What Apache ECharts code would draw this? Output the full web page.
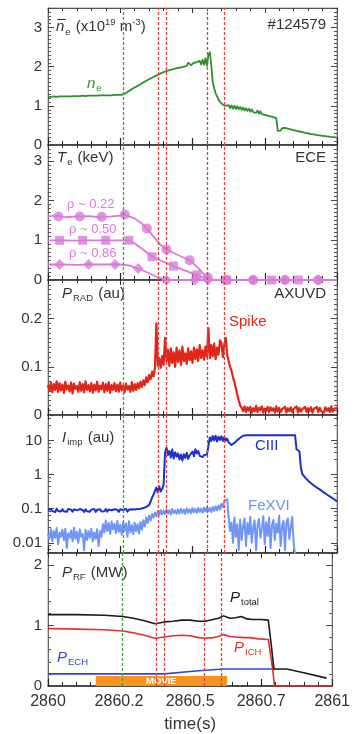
<!DOCTYPE html>
<html><head><meta charset="utf-8">
<script src="https://cdn.jsdelivr.net/npm/echarts@6/dist/echarts.min.js"></script>
<style>html,body{margin:0;padding:0;background:#fff}#c{width:353px;height:734px}</style>
</head><body><div id="c"></div>
<script>
// ---------- DATA ----------
const T0 = 2860;                 // time origin (s)
const DT = 0.005;
const xTickLabels = ['2860', '2860.2', '2860.5', '2860.7', '2861'];
const yTicksNe = [0, 1, 2, 3];
const yTicksTe = [0, 1, 2, 3];
const yTicksPrad = [0, 0.1, 0.2];
const yTicksImp = [0.01, 0.1, 1, 10];
const yTicksPrf = [0, 1, 2];

const eventGreen = [0.263];
const eventRed = [0.376, 0.407, 0.553, 0.613];
const movieSpan = [0.168, 0.63];

// line-averaged density (1e19 m^-3), sampled every DT from t=0
const neVals = [
1.23,1.23,1.23,1.23,1.24,1.23,1.23,1.24,1.24,1.23,
1.24,1.24,1.24,1.24,1.24,1.25,1.24,1.24,1.25,1.25,
1.25,1.25,1.25,1.25,1.26,1.25,1.25,1.26,1.26,1.26,
1.26,1.26,1.26,1.27,1.26,1.26,1.27,1.27,1.27,1.27,
1.27,1.27,1.27,1.28,1.27,1.28,1.28,1.28,1.28,1.28,
1.28,1.28,1.29,1.32,1.33,1.36,1.38,1.41,1.43,1.45,
1.47,1.49,1.51,1.53,1.55,1.57,1.60,1.62,1.64,1.66,
1.68,1.70,1.72,1.74,1.76,1.78,1.79,1.81,1.83,1.84,
1.86,1.87,1.89,1.90,1.91,1.92,1.93,1.94,1.95,1.96,
1.97,1.97,1.98,1.99,2.00,2.01,2.02,2.10,2.06,2.04,
2.05,2.10,2.07,2.12,2.08,2.15,2.06,2.18,2.05,2.22,
2.02,2.30,2.37,2.05,1.60,1.45,1.32,1.24,1.16,1.10,
1.06,1.03,1.00,1.00,0.96,1.02,0.94,1.01,0.93,1.00,
0.92,0.99,0.91,0.97,0.90,0.96,0.88,0.94,0.87,0.93,
0.85,0.91,0.84,0.89,0.82,0.88,0.80,0.86,0.79,0.84,
0.77,0.82,0.75,0.80,0.73,0.78,0.71,0.74,0.68,0.36,
0.33,0.37,0.43,0.45,0.44,0.43,0.42,0.41,0.40,0.39,
0.38,0.37,0.36,0.355,0.345,0.34,0.33,0.32,0.31,0.305,
0.30,0.29,0.28,0.275,0.27,0.26,0.255,0.25,0.245,0.24,
0.235,0.23,0.225,0.22,0.215,0.21,0.205,0.20,0.20,0.195,
0.19];

// ECE electron temperature (keV): traces and marker points [t, Te]
const te022Line = [[0,1.60],[0.03,1.62],[0.06,1.58],[0.10,1.60],[0.14,1.61],[0.18,1.58],[0.22,1.60],[0.25,1.62],[0.266,1.65],[0.28,1.60],[0.30,1.55],[0.32,1.45],[0.342,1.30],[0.37,1.05],[0.39,0.88],[0.41,0.77],[0.44,0.66],[0.47,0.56],[0.49,0.50],[0.52,0.30],[0.545,0.10],[0.56,0.01],[0.57,0],[1.0,0]];
const te050Line = [[0,1.00],[0.05,1.00],[0.10,0.99],[0.15,1.00],[0.20,1.00],[0.25,1.00],[0.28,1.00],[0.30,0.92],[0.33,0.76],[0.36,0.585],[0.40,0.46],[0.434,0.35],[0.47,0.25],[0.515,0.13],[0.54,0.05],[0.56,0],[1.0,0]];
const te086Line = [[0,0.39],[0.05,0.39],[0.10,0.38],[0.15,0.39],[0.20,0.39],[0.25,0.39],[0.28,0.37],[0.312,0.29],[0.35,0.17],[0.38,0.07],[0.41,0],[1.0,0]];
const te022Marks = [[0.036,1.60],[0.11,1.60],[0.186,1.59],[0.266,1.65],[0.342,1.30],[0.41,0.77],[0.49,0.50],[0.553,0.06],[0.618,0],[0.71,0],[0.82,0],[0.935,0]];
const te050Marks = [[0.04,1.00],[0.12,1.00],[0.20,1.00],[0.28,1.00],[0.36,0.585],[0.434,0.35],[0.515,0.13],[0.618,0],[0.774,0],[0.866,0]];
const te086Marks = [[0.04,0.39],[0.14,0.39],[0.232,0.39],[0.312,0.29],[0.41,0],[0.508,0],[0.553,0],[0.71,0],[0.82,0],[0.935,0]];

// radiated power AXUVD (au), sampled every DT
const pradVals = [
.062,.050,.068,.047,.064,.052,.070,.048,.066,.051,
.063,.046,.069,.053,.061,.049,.067,.045,.065,.054,
.060,.048,.068,.050,.064,.047,.070,.052,.062,.049,
.066,.046,.063,.051,.069,.048,.061,.053,.067,.047,
.064,.050,.068,.046,.062,.052,.066,.049,.063,.048,
.067,.051,.061,.047,.065,.053,.060,.048,.068,.050,
.064,.052,.066,.055,.069,.058,.072,.062,.078,.068,
.083,.074,.090,.080,.097,.190,.102,.118,.098,.122,
.104,.160,.112,.135,.102,.138,.108,.130,.100,.140,
.110,.134,.104,.142,.112,.128,.106,.138,.114,.132,
.108,.140,.116,.136,.112,.145,.118,.134,.115,.142,
.120,.180,.118,.145,.122,.148,.116,.140,.125,.155,
.150,.120,.146,.160,.125,.112,.100,.092,.078,.068,
.055,.042,.030,.020,.015,.008,.018,.006,.016,.009,
.017,.005,.014,.008,.019,.006,.015,.010,.018,.005,
.013,.008,.017,.006,.016,.009,.014,.005,.018,.007,
.015,.006,.012,.009,.017,.005,.014,.008,.016,.006,
.013,.009,.018,.005,.015,.007,.012,.010,.017,.006,
.014,.008,.016,.005,.013,.009,.017,.006,.015,.008,
.012,.005,.016,.009,.014,.006,.018,.007,.013,.010,
.015];

// impurity line intensities (au), sampled every DT
const ciiiVals = [
.092,.082,.098,.085,.095,.080,.100,.086,.093,.083,
.097,.084,.091,.081,.099,.087,.094,.082,.096,.085,
.090,.083,.098,.086,.092,.080,.097,.084,.095,.082,
.094,.085,.099,.081,.093,.086,.096,.083,.091,.084,
.098,.082,.095,.087,.090,.083,.097,.085,.093,.081,
.096,.086,.092,.084,.099,.082,.094,.087,.097,.085,
.095,.086,.098,.088,.100,.092,.105,.098,.112,.105,
.130,.160,.210,.260,.330,.420,.300,.450,.320,.380,
.500,4.5,6.2,3.8,5.0,3.2,5.5,3.0,4.6,3.4,
4.2,2.8,3.9,2.6,4.0,3.1,4.4,2.9,3.7,3.3,
4.8,3.5,5.6,4.2,5.0,3.6,4.1,3.3,3.8,3.5,
3.9,4.2,12.5,9.8,13.8,10.2,14.0,9.5,13.2,10.5,
13.5,9.8,12.8,10.0,11.5,9.0,8.0,7.5,7.8,8.6,
9.6,10.4,11.2,12.2,13.2,14.0,14.4,14.4,14.4,14.4,
14.4,14.4,14.4,14.4,14.4,14.4,14.4,14.4,14.4,14.4,
14.4,14.4,14.4,14.4,14.4,14.4,14.4,14.4,14.4,14.4,
14.4,14.4,14.4,14.4,14.4,14.4,14.4,14.4,14.4,14.4,
14.4,14.4,5.6,5.3,4.9,1.6,1.05,0.92,0.82,0.74,
0.67,0.62,0.56,0.52,0.48,0.45,0.42,0.39,0.37,0.34,
0.32,0.30,0.28,0.26,0.245,0.23,0.215,0.20,0.19,0.175,
0.165];
const fexviVals = [
.018,.013,.025,.011,.022,.014,.027,.009,.020,.015,
.024,.012,.026,.007,.019,.014,.023,.011,.028,.013,
.021,.010,.025,.015,.018,.006,.024,.012,.022,.014,
.026,.011,.020,.013,.025,.008,.022,.015,.035,.020,
.045,.022,.038,.018,.042,.025,.036,.019,.044,.021,
.034,.017,.040,.023,.037,.015,.043,.020,.033,.018,
.039,.022,.035,.019,.041,.024,.046,.030,.055,.038,
.062,.045,.070,.055,.078,.060,.085,.065,.090,.068,
.088,.070,.095,.072,.092,.068,.098,.074,.090,.071,
.096,.073,.100,.075,.094,.070,.102,.076,.097,.074,
.104,.078,.099,.075,.106,.080,.101,.077,.108,.082,
.110,.084,.105,.080,.112,.086,.118,.090,.125,.095,
.140,.110,.170,.150,.190,.055,.022,.040,.010,.055,
.015,.035,.006,.048,.012,.030,.052,.008,.038,.018,
.058,.010,.028,.045,.006,.034,.050,.014,.026,.060,
.009,.040,.016,.055,.007,.032,.047,.012,.036,.020,
.062,.008,.030,.044,.006,.038,.052,.013,.028,.058,
.010,.004];

// RF heating power (MW): [t, P]
const pTotal = [[0,1.18],[0.10,1.18],[0.20,1.17],[0.263,1.15],[0.30,1.12],[0.34,1.08],[0.376,1.03],[0.41,1.06],[0.44,1.07],[0.47,1.09],[0.50,1.09],[0.53,1.07],[0.553,1.07],[0.58,1.10],[0.60,1.12],[0.618,1.16],[0.64,1.12],[0.66,1.13],[0.68,1.15],[0.70,1.11],[0.72,1.10],[0.75,1.10],[0.775,1.09],[0.785,0.70],[0.795,0.28],[0.84,0.28],[0.90,0.22],[0.98,0.13]];
const pICH = [[0,0.95],[0.10,0.94],[0.20,0.93],[0.263,0.91],[0.30,0.88],[0.34,0.84],[0.376,0.79],[0.41,0.81],[0.44,0.83],[0.47,0.84],[0.50,0.83],[0.53,0.80],[0.553,0.79],[0.58,0.80],[0.60,0.82],[0.618,0.85],[0.64,0.82],[0.66,0.81],[0.69,0.80],[0.71,0.80],[0.74,0.78],[0.775,0.77],[0.79,0.30],[0.797,0],[1.0,0]];
const pECH = [[0,0.20],[0.20,0.20],[0.41,0.20],[0.50,0.24],[0.553,0.26],[0.618,0.28],[0.797,0.28]];

// ---------- BUILD ----------
const FONT = 'Liberation Sans, Arial, sans-serif';
const C = {
  ne: '#2e8f2e', te: '#d77bd8', prad: '#e1251b', ciii: '#1b2fcc', fexvi: '#6f95f5',
  ptot: '#1a1a1a', pich: '#e2302a', pech: '#3146d8', movie: '#f7931e',
  green: '#3ea33e', red: '#ea3b3b'
};
const sampled = vals => vals.map((v, i) => [T0 + Math.round(i * DT * 1000) / 1000, v]);
const abs = pairs => pairs.map(p => [T0 + p[0], p[1]]);

const grids = [
  { top: 8, height: 137 },
  { top: 145, height: 135 },
  { top: 280, height: 135 },
  { top: 415, height: 138 },
  { top: 553, height: 134 }
].map(g => ({ left: 48, right: 16, top: g.top, height: g.height, show: true, borderColor: '#9a9a9a', borderWidth: 1 }));

const xAxis = [];
grids.forEach((g, i) => {
  const last = i === grids.length - 1;
  xAxis.push({
    gridIndex: i, type: 'value', min: T0, max: T0 + 1, interval: 0.25, position: 'bottom',
    axisLine: { show: true, onZero: false, lineStyle: { color: '#222', width: 1.5 } },
    axisTick: { show: true, inside: true, length: 7, lineStyle: { color: '#222', width: 1.2 } },
    minorTick: { show: true, splitNumber: 5, length: 4, lineStyle: { color: '#222', width: 1 } },
    splitLine: { show: false },
    axisLabel: {
      show: last, margin: 8, color: '#333', fontSize: 16, fontFamily: FONT,
      formatter: (v, idx) => xTickLabels[idx] !== undefined ? xTickLabels[idx] : ''
    },
    name: last ? 'time(s)' : '', nameLocation: 'middle', nameGap: 30,
    nameTextStyle: { color: '#333', fontSize: 17, fontFamily: FONT }
  });
  xAxis.push({
    gridIndex: i, type: 'value', min: T0, max: T0 + 1, interval: 0.25, position: 'top',
    axisLine: { show: true, onZero: false, lineStyle: { color: '#555', width: 1 } },
    axisTick: { show: true, inside: true, length: 5, lineStyle: { color: '#333' } },
    minorTick: { show: true, splitNumber: 5, length: 3, lineStyle: { color: '#333' } },
    splitLine: { show: false }, axisLabel: { show: false }
  });
});

const yCfg = [
  { min: 0, max: 3.5, interval: 1, ticks: yTicksNe, minor: 10 },
  { min: 0, max: 3.4, interval: 1, ticks: yTicksTe, minor: 10 },
  { min: 0, max: 0.28, interval: 0.1, ticks: yTicksPrad, minor: 10 },
  { log: true, min: 0.005, max: 57, ticks: yTicksImp, minor: 5 },
  { min: 0, max: 2.2, interval: 1, ticks: yTicksPrf, minor: 5 }
];
const yAxis = [];
yCfg.forEach((c, i) => {
  const base = {
    gridIndex: i, min: c.min, max: c.max,
    type: c.log ? 'log' : 'value',
    splitLine: { show: false },
    axisLine: { show: true, onZero: false, lineStyle: { color: '#666', width: 1 } },
    axisTick: { show: true, inside: true, length: 6, lineStyle: { color: '#444' } },
    minorTick: { show: true, splitNumber: c.minor, length: 3, lineStyle: { color: '#555' } }
  };
  if (c.log) base.logBase = 10; else base.interval = c.interval;
  const fmt = v => {
    const hit = c.ticks.find(t => Math.abs(t - v) < Math.abs(t) * 1e-6 + 1e-9);
    return hit !== undefined ? String(hit) : '';
  };
  yAxis.push(Object.assign({}, base, {
    position: 'left',
    axisLabel: { show: true, margin: 6, color: '#333', fontSize: 15, fontFamily: FONT, formatter: fmt, showMinLabel: true, showMaxLabel: true }
  }));
  yAxis.push(Object.assign({}, base, { position: 'right', axisLabel: { show: false } }));
});

const eventLines = () => ({
  silent: true, symbol: ['none', 'none'], animation: false,
  label: { show: false },
  data: eventGreen.map(t => ({ xAxis: T0 + t, lineStyle: { color: C.green, type: [3, 2], width: 1.3 } }))
    .concat(eventRed.map(t => ({ xAxis: T0 + t, lineStyle: { color: C.red, type: [3, 2], width: 1.3 } })))
});

const line = (g, data, color, width, extra) => Object.assign({
  type: 'line', xAxisIndex: 2 * g, yAxisIndex: 2 * g, data, showSymbol: false, symbol: 'none',
  lineStyle: { color, width, join: 'round' }, itemStyle: { color }, silent: true, animation: false, clip: true
}, extra || {});
const marks = (g, data, symbol, size) => ({
  type: 'scatter', xAxisIndex: 2 * g, yAxisIndex: 2 * g, data: abs(data), symbol, symbolSize: size,
  itemStyle: { color: C.te }, silent: true, animation: false
});

const series = [
  line(0, sampled(neVals), C.ne, 1.8, { markLine: eventLines() }),
  line(1, abs(te022Line), C.te, 1.8, { markLine: eventLines() }),
  line(1, abs(te050Line), C.te, 1.8),
  line(1, abs(te086Line), C.te, 1.8),
  marks(1, te022Marks, 'circle', 10),
  marks(1, te050Marks, 'rect', 9),
  marks(1, te086Marks, 'diamond', 11),
  line(2, sampled(pradVals), C.prad, 2.2, { markLine: eventLines() }),
  line(3, sampled(fexviVals), C.fexvi, 2, { markLine: eventLines() }),
  line(3, sampled(ciiiVals), C.ciii, 2),
  line(4, abs(pECH), C.pech, 1.6, {
    markLine: eventLines(),
    markArea: {
      silent: true, animation: false,
      itemStyle: { color: C.movie, opacity: 1 },
      label: { show: true, position: 'inside', align: 'center', verticalAlign: 'middle', color: '#fff', fontSize: 9.5, lineHeight: 10, fontFamily: FONT, fontWeight: 'bold' },
      data: [[{ name: 'MOVIE', xAxis: T0 + movieSpan[0], yAxis: 0 }, { xAxis: T0 + movieSpan[1], yAxis: 0.165 }]]
    }
  }),
  line(4, abs(pICH), C.pich, 1.6),
  line(4, abs(pTotal), C.ptot, 1.6)
];

// ---------- TEXT ----------
const R = {
  t: { fontSize: 15, fontFamily: FONT, fill: '#333', lineHeight: 20, verticalAlign: 'middle' },
  i: { fontSize: 15, fontFamily: FONT, fill: '#333', fontStyle: 'italic', lineHeight: 20, verticalAlign: 'middle' },
  sub: { fontSize: 9.5, fontFamily: FONT, fill: '#333', lineHeight: 12, verticalAlign: 'bottom', padding: [0, 1, 0, 1] },
  sup: { fontSize: 9.5, fontFamily: FONT, fill: '#333', lineHeight: 12, verticalAlign: 'top' }
};
const richC = color => {
  const o = {};
  Object.keys(R).forEach(k => { o[k] = Object.assign({}, R[k], { fill: color }); });
  o.r = { fontSize: 13, fontFamily: FONT, fill: color, lineHeight: 16 };
  return o;
};
const T = (left, top, text, color, extra) => Object.assign({
  type: 'text', left, top, silent: true,
  style: { text, rich: richC(color || '#333'), font: '15px ' + FONT, fill: color || '#333' }
}, extra || {});

const graphic = [
  T(56, 17, '{i|n\u0305}{sub|e}{t| (x10}{sup|19}{t| m}{sup|-3}{t|)}'),
  T(null, 17, '{t|#124579}', null, { right: 27, left: undefined }),
  T(87, 76, '{i|n}{sub|e}', C.ne),
  T(57, 150, '{i|T}{sub|e}{t| (keV)}'),
  T(null, 150, '{t|ECE}', null, { right: 27, left: undefined }),
  T(67, 198, '{r|\u03c1 ~ 0.22}', C.te),
  T(69, 223, '{r|\u03c1 ~ 0.50}', C.te),
  T(69, 247, '{r|\u03c1 ~ 0.86}', C.te),
  T(62, 286, '{i|P}{sub|RAD}{t| (au)}'),
  T(null, 286, '{t|AXUVD}', null, { right: 27, left: undefined }),
  T(229, 314, '{t|Spike}', C.prad),
  T(62, 430, '{i|I}{sub|imp}{t| (au)}'),
  T(255, 438, '{t|CIII}', C.ciii),
  T(248, 498, '{t|FeXVI}', C.fexvi),
  T(62, 565, '{i|P}{sub|RF}{t| (MW)}'),
  T(230, 590, '{i|P}{sub|total}', C.ptot),
  T(234, 640, '{i|P}{sub|ICH}', C.pich),
  T(57, 650, '{i|P}{sub|ECH}', C.pech)
];

const chart = echarts.init(document.getElementById('c'), null, { renderer: 'canvas' });
chart.setOption({
  animation: false,
  backgroundColor: '#fff',
  grid: grids, xAxis, yAxis, series, graphic
});
</script></body></html>
